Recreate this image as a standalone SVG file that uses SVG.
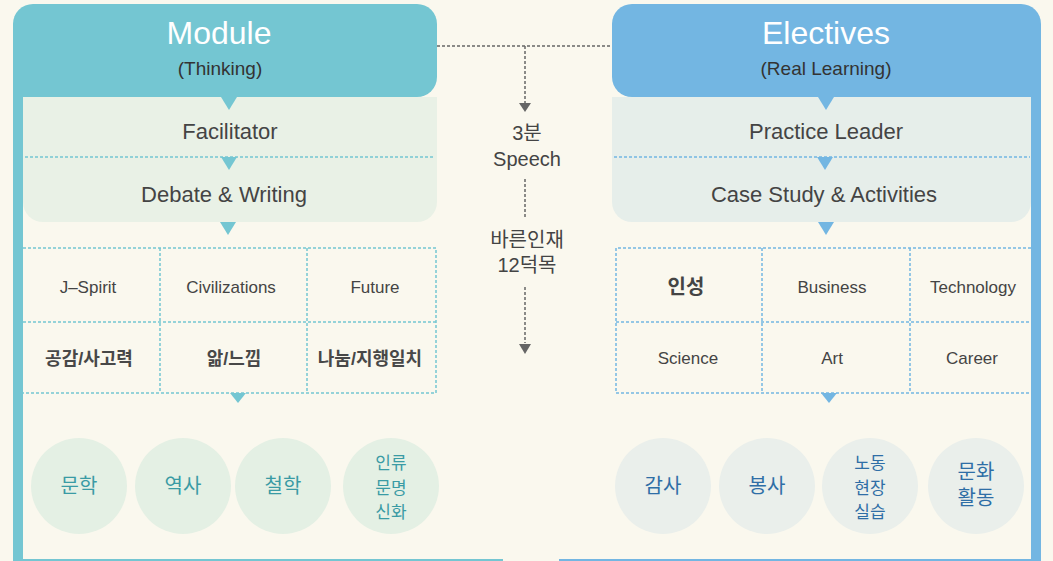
<svg xmlns="http://www.w3.org/2000/svg" width="1053" height="561" viewBox="0 0 1053 561">
<style>
text{font-family:"Liberation Sans","Noto Sans CJK KR",sans-serif;text-anchor:middle;fill:#444}
.title{fill:#fff;font-size:32px}
.sub{fill:#333;font-size:19px}
.step{font-size:22px}
.cell{font-size:17px}
.kcell{font-size:18px;font-weight:bold;fill:#484848}
.mid{font-size:20px;fill:#444}
.cl{font-size:20px;fill:#3a9ba4}
.cl2{font-size:17px;fill:#3a9ba4}
.cr{font-size:20px;fill:#2f6ea6}
.cr2{font-size:17px;fill:#2f6ea6}
.dl{stroke:#74c6d2;stroke-width:1.5;stroke-dasharray:3 2;fill:none}
.dr{stroke:#73b6e2;stroke-width:1.5;stroke-dasharray:3 2;fill:none}
.dm{stroke:#666;stroke-width:1.5;stroke-dasharray:3 2;fill:none}
</style>
<rect width="1053" height="561" fill="#faf8ee"/>
<g id="module">
<rect x="13" y="90" width="10" height="471" fill="#74c6d2"/>
<rect x="13" y="559" width="490" height="2" fill="#74c6d2"/>
<path d="M23 97 H437 V202 A20 20 0 0 1 417 222 H43 A20 20 0 0 1 23 202 Z" fill="#e9f1e6"/>
<path d="M33 4 H417 A20 20 0 0 1 437 24 V77 A20 20 0 0 1 417 97 H13 V24 A20 20 0 0 1 33 4 Z" fill="#74c6d2"/>
<text class="title" x="219" y="44">Module</text>
<text class="sub" x="220" y="75">(Thinking)</text>
<path d="M221 97 H237 L229 110 Z" fill="#74c6d2"/>
<text class="step" x="230" y="139">Facilitator</text>
<line class="dl" x1="25" y1="157" x2="435" y2="157"/>
<path d="M221 157 H237 L229 170 Z" fill="#74c6d2"/>
<text class="step" x="224" y="202">Debate &amp; Writing</text>
<path d="M220 222 H236 L228 235 Z" fill="#74c6d2"/>
</g>
<g id="module-grid">
<path class="dl" d="M23 248 H436 V393 H23 M23 322 H436 M160 248 V393 M307 248 V393"/>
<text class="cell" x="88" y="293">J–Spirit</text>
<text class="cell" x="231" y="293">Civilizations</text>
<text class="cell" x="375" y="293">Future</text>
<text class="kcell" x="89" y="365">공감/사고력</text>
<text class="kcell" x="234" y="365">앎/느낌</text>
<text class="kcell" x="370" y="365">나눔/지행일치</text>
<path d="M230 393 H246 L238 403 Z" fill="#74c6d2"/>
</g>
<g id="module-circles">
<circle cx="79" cy="486" r="48" fill="#e4f0e4"/>
<circle cx="183" cy="486" r="48" fill="#e4f0e4"/>
<circle cx="283" cy="486" r="48" fill="#e4f0e4"/>
<circle cx="391" cy="486" r="48" fill="#e4f0e4"/>
<text class="cl" x="79" y="493">문학</text>
<text class="cl" x="183" y="493">역사</text>
<text class="cl" x="283" y="493">철학</text>
<text class="cl2" x="391" y="469">인류</text>
<text class="cl2" x="391" y="494">문명</text>
<text class="cl2" x="391" y="518">신화</text>
</g>
<g id="electives">
<rect x="1031" y="90" width="10" height="471" fill="#73b6e2"/>
<rect x="559" y="559" width="482" height="2" fill="#73b6e2"/>
<path d="M612 97 H1031 V202 A20 20 0 0 1 1011 222 H632 A20 20 0 0 1 612 202 Z" fill="#e6eeea"/>
<path d="M632 4 H1021 A20 20 0 0 1 1041 24 V97 H632 A20 20 0 0 1 612 77 V24 A20 20 0 0 1 632 4 Z" fill="#73b6e2"/>
<text class="title" x="826" y="44">Electives</text>
<text class="sub" x="826" y="75">(Real Learning)</text>
<path d="M818 97 H834 L826 110 Z" fill="#73b6e2"/>
<text class="step" x="826" y="139">Practice Leader</text>
<line class="dr" x1="614" y1="157" x2="1030" y2="157"/>
<path d="M817 157 H833 L825 170 Z" fill="#73b6e2"/>
<text class="step" x="824" y="202">Case Study &amp; Activities</text>
<path d="M818 222 H834 L826 235 Z" fill="#73b6e2"/>
</g>
<g id="electives-grid">
<path class="dr" d="M1031 248 H616 V393 H1031 M616 322 H1031 M762 248 V393 M910 248 V393"/>
<text x="686" y="294" style="font-size:20px;font-weight:bold">인성</text>
<text class="cell" x="832" y="293">Business</text>
<text class="cell" x="973" y="293">Technology</text>
<text class="cell" x="688" y="364">Science</text>
<text class="cell" x="832" y="364">Art</text>
<text class="cell" x="972" y="364">Career</text>
<path d="M821 393 H837 L829 403 Z" fill="#73b6e2"/>
</g>
<g id="electives-circles">
<circle cx="663" cy="486" r="48" fill="#eaefeb"/>
<circle cx="767" cy="486" r="48" fill="#eaefeb"/>
<circle cx="870" cy="486" r="48" fill="#eaefeb"/>
<circle cx="976" cy="486" r="48" fill="#eaefeb"/>
<text class="cr" x="663" y="493">감사</text>
<text class="cr" x="767" y="493">봉사</text>
<text class="cr2" x="870" y="469">노동</text>
<text class="cr2" x="870" y="494">현장</text>
<text class="cr2" x="870" y="518">실습</text>
<text class="cr" x="976" y="479">문화</text>
<text class="cr" x="976" y="505">활동</text>
</g>
<g id="center">
<text class="mid" x="527" y="140">3분</text>
<text class="mid" x="527" y="166">Speech</text>
<text class="mid" x="527" y="247">바른인재</text>
<text class="mid" x="527" y="272">12덕목</text>
</g>
<g id="connectors">
<path class="dm" d="M437 46 H612 M525 46 V103 M525 179 V218 M525 287 V343"/>
<path d="M519 103 H531 L525 112 Z" fill="#666"/>
<path d="M519 344 H531 L525 354 Z" fill="#666"/>
</g>
</svg>
